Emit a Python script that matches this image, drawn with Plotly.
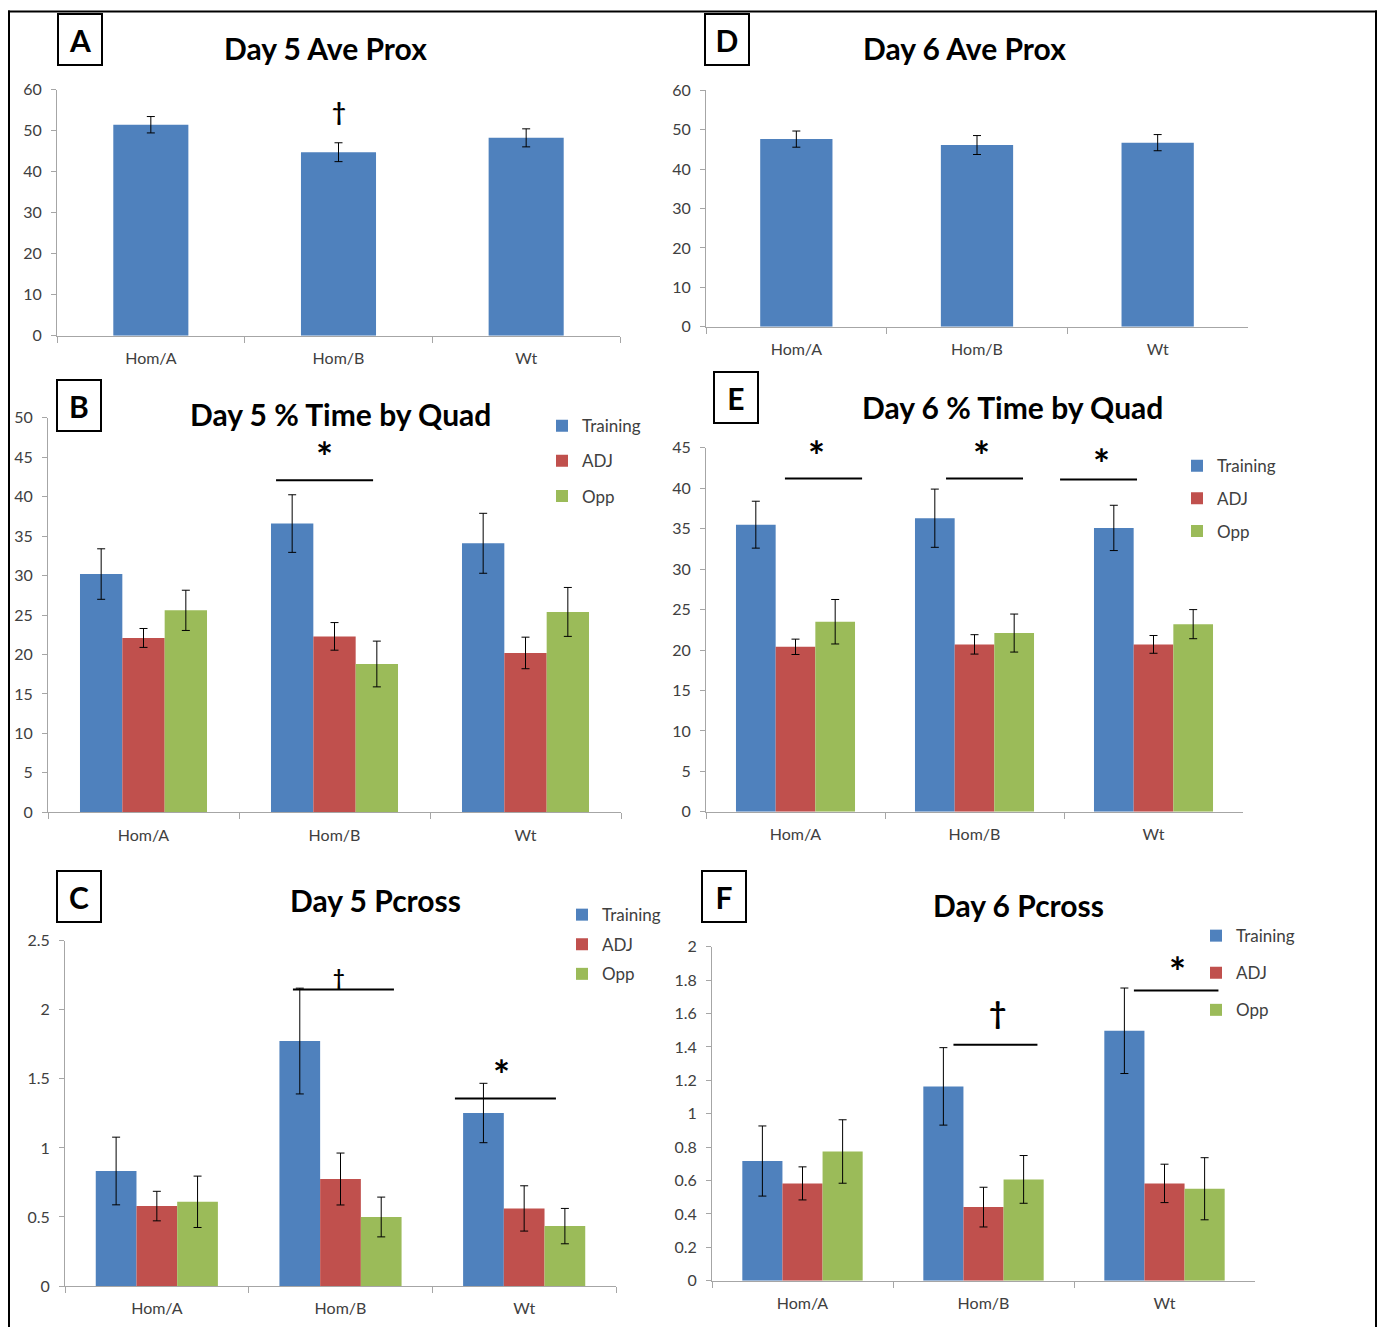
import plotly.graph_objects as go

W, H = 1384, 1327

# ---------------- data ----------------
groups = ["Hom/A", "Hom/B", "Wt"]
series_names = ["Training", "ADJ", "Opp"]

day5_prox = [51.5, 44.8, 48.3]
day5_prox_err = [2.0, 2.3, 2.2]

day6_prox = [47.6, 46.1, 46.7]
day6_prox_err = [2.05, 2.4, 2.05]

day5_quad_training = [30.2, 36.6, 34.1]
day5_quad_training_err = [3.2, 3.65, 3.8]
day5_quad_adj = [22.1, 22.3, 20.2]
day5_quad_adj_err = [1.2, 1.75, 2.0]
day5_quad_opp = [25.6, 18.8, 25.4]
day5_quad_opp_err = [2.55, 2.9, 3.1]

day6_quad_training = [35.5, 36.3, 35.1]
day6_quad_training_err = [2.9, 3.6, 2.8]
day6_quad_adj = [20.4, 20.7, 20.7]
day6_quad_adj_err = [0.95, 1.2, 1.1]
day6_quad_opp = [23.5, 22.1, 23.2]
day6_quad_opp_err = [2.75, 2.35, 1.8]

day5_pcross_training = [0.833, 1.774, 1.253]
day5_pcross_training_err = [0.245, 0.383, 0.215]
day5_pcross_adj = [0.579, 0.775, 0.562]
day5_pcross_adj_err = [0.107, 0.188, 0.164]
day5_pcross_opp = [0.610, 0.500, 0.434]
day5_pcross_opp_err = [0.186, 0.144, 0.128]

day6_pcross_training = [0.717, 1.164, 1.497]
day6_pcross_training_err = [0.210, 0.232, 0.256]
day6_pcross_adj = [0.583, 0.441, 0.583]
day6_pcross_adj_err = [0.099, 0.119, 0.115]
day6_pcross_opp = [0.774, 0.607, 0.551]
day6_pcross_opp_err = [0.190, 0.143, 0.186]

# ---------------- styling / layout ----------------
COLORS = ["#4F81BD", "#C0504D", "#9BBB59"]
FONT = "Lato, Carlito, Calibri, sans-serif"
AXIS_COLOR = "#A6A6A6"
TEXT_COLOR = "#404040"

# the photographed page ends up with a small vertical inset; place elements so they land where intended
Y_OFF = 9.1
Y_SCALE = 0.9858


def fx(px):
    return px / W


def fy(py):
    return 1 - ((py - Y_OFF) / Y_SCALE) / H


# panel geometry in (target picture) pixels
panels = [
    dict(id="A", title="Day 5 Ave Prox", x0=57, x1=620, ytop=89, ybot=335, ymax=60, dtick=10,
         tpos=(325, 47), lpos=(80, 38.5), single=(day5_prox, day5_prox_err)),
    dict(id="D", title="Day 6 Ave Prox", x0=706, x1=1248, ytop=89.3, ybot=326, ymax=60, dtick=10,
         tpos=(964, 47), lpos=(727, 39), single=(day6_prox, day6_prox_err)),
    dict(id="B", title="Day 5 % Time by Quad", x0=48, x1=621, ytop=417, ybot=811.5, ymax=50, dtick=5,
         tpos=(340, 413), lpos=(79, 405), legend=(582, 426, 35),
         series=[(day5_quad_training, day5_quad_training_err),
                 (day5_quad_adj, day5_quad_adj_err),
                 (day5_quad_opp, day5_quad_opp_err)]),
    dict(id="E", title="Day 6 % Time by Quad", x0=706, x1=1243, ytop=447, ybot=811, ymax=45, dtick=5,
         tpos=(1012, 406), lpos=(736, 397), legend=(1217, 466, 32.5),
         series=[(day6_quad_training, day6_quad_training_err),
                 (day6_quad_adj, day6_quad_adj_err),
                 (day6_quad_opp, day6_quad_opp_err)]),
    dict(id="C", title="Day 5 Pcross", x0=65, x1=616, ytop=940, ybot=1285.3, ymax=2.5, dtick=0.5,
         tpos=(375, 899), lpos=(78.5, 895.5), legend=(602, 915, 29.5),
         series=[(day5_pcross_training, day5_pcross_training_err),
                 (day5_pcross_adj, day5_pcross_adj_err),
                 (day5_pcross_opp, day5_pcross_opp_err)]),
    dict(id="F", title="Day 6 Pcross", x0=712, x1=1255, ytop=946, ybot=1280, ymax=2, dtick=0.2,
         tpos=(1018, 904), lpos=(724, 896), legend=(1236, 936, 37),
         series=[(day6_pcross_training, day6_pcross_training_err),
                 (day6_pcross_adj, day6_pcross_adj_err),
                 (day6_pcross_opp, day6_pcross_opp_err)]),
]

# significance bars: (panel index, x0, x1, y) in data units
sig_lines = [
    (2, 0.694, 1.202, 42.1),
    (3, -0.059, 0.372, 41.2),
    (3, 0.841, 1.271, 41.2),
    (3, 1.478, 1.908, 41.1),
    (4, 0.741, 1.291, 2.148),
    (4, 1.623, 2.173, 1.358),
    (5, 0.834, 1.298, 1.413),
    (5, 1.831, 2.298, 1.738),
]
# significance symbols: (panel index, symbol, x in data units, glyph-centre y in pixels, font size)
sig_symbols = [
    (0, "†", 1.0, 111, 24),
    (2, "*", 0.95, 448, 40),
    (3, "*", 0.117, 447, 40),
    (3, "*", 1.04, 447, 40),
    (3, "*", 1.707, 455, 40),
    (4, "†", 0.994, 976, 20),
    (4, "*", 1.877, 1065.7, 40),
    (5, "†", 1.077, 1011.7, 30),
    (5, "*", 2.073, 963.3, 40),
]

fig = go.Figure()
layout = dict(
    width=W, height=H, margin=dict(l=0, r=0, t=0, b=0),
    paper_bgcolor="white", plot_bgcolor="white",
    barmode="group", bargap=0.335, bargroupgap=0,
    font=dict(family=FONT, color=TEXT_COLOR),
    showlegend=True,
)
annotations = []
shapes = []

legend_names = {2: "legend", 3: "legend2", 4: "legend3", 5: "legend4"}

for i, p in enumerate(panels):
    n = i + 1
    xa = "x" if n == 1 else f"x{n}"
    ya = "y" if n == 1 else f"y{n}"
    xkey = "xaxis" if n == 1 else f"xaxis{n}"
    ykey = "yaxis" if n == 1 else f"yaxis{n}"
    layout[xkey] = dict(
        domain=[fx(p["x0"]), fx(p["x1"])], anchor=ya, type="category",
        categoryorder="array", categoryarray=groups, range=[-0.5, 2.5],
        showline=True, linecolor=AXIS_COLOR, linewidth=1,
        ticks="outside", tickson="boundaries", ticklen=6, tickcolor=AXIS_COLOR,
        showgrid=False, zeroline=False, ticklabelstandoff=8,
        tickfont=dict(family=FONT, size=16, color=TEXT_COLOR), fixedrange=True,
    )
    layout[ykey] = dict(
        domain=[fy(p["ybot"]), fy(p["ytop"])], anchor=xa, range=[0, p["ymax"]],
        tick0=0, dtick=p["dtick"], showline=True, linecolor=AXIS_COLOR, linewidth=1,
        ticks="outside", ticklen=5, tickcolor=AXIS_COLOR, showgrid=False, zeroline=False,
        ticklabelstandoff=6,
        tickfont=dict(family=FONT, size=16, color=TEXT_COLOR), fixedrange=True,
    )

    if "single" in p:
        vals, errs = p["single"]
        fig.add_trace(go.Bar(
            x=groups, y=vals, width=0.4, xaxis=xa, yaxis=ya, showlegend=False,
            marker=dict(color=COLORS[0], line=dict(width=0)),
            error_y=dict(type="data", array=errs, color="black", thickness=1, width=4),
            name=p["title"],
        ))
    else:
        lg = legend_names[i]
        for k, (vals, errs) in enumerate(p["series"]):
            fig.add_trace(go.Bar(
                x=groups, y=vals, xaxis=xa, yaxis=ya, name=series_names[k],
                legend=lg, legendgroup=f"{p['id']}_{k}", offsetgroup=str(k),
                marker=dict(color=COLORS[k], line=dict(width=0)),
                error_y=dict(type="data", array=errs, color="black", thickness=1, width=4),
            ))
        lx, ly, gap = p["legend"]
        layout[lg] = dict(
            x=fx(lx - 40), y=fy(ly - 18.7), xanchor="left", yanchor="top",
            bgcolor="rgba(0,0,0,0)", font=dict(family=FONT, size=17, color=TEXT_COLOR),
            tracegroupgap=gap - 25, itemclick=False, itemdoubleclick=False,
        )

    # title
    annotations.append(dict(
        text=f"<b>{p['title']}</b>", x=fx(p["tpos"][0]), y=fy(p["tpos"][1]),
        xref="paper", yref="paper", xanchor="center", yanchor="middle", showarrow=False,
        height=34, font=dict(family=FONT, size=30, color="black"),
    ))
    # panel letter box
    annotations.append(dict(
        text=f"<b>{p['id']}</b>", x=fx(p["lpos"][0]), y=fy(p["lpos"][1]),
        xref="paper", yref="paper", xanchor="center", yanchor="middle", showarrow=False,
        width=42, height=49, borderpad=0, bordercolor="black", borderwidth=2,
        bgcolor="white", font=dict(family=FONT, size=30, color="black"),
    ))

for (pi, x0, x1, yl) in sig_lines:
    n = pi + 1
    shapes.append(dict(type="line", xref=f"x{n}", yref=f"y{n}", x0=x0, x1=x1, y0=yl, y1=yl,
                       line=dict(color="black", width=2)))

for (pi, sym, tx, gy, sz) in sig_symbols:
    n = pi + 1
    xa = "x" if n == 1 else f"x{n}"
    if sym == "*":
        # asterisk glyph sits in the upper part of its line box: clip the box just below it
        annotations.append(dict(
            text=f"<b>{sym}</b>", x=tx, y=fy(gy - 0.44 * sz), xref=xa, yref="paper",
            showarrow=False, xanchor="center", yanchor="top", valign="top",
            height=int(0.7 * sz), font=dict(family=FONT, size=sz, color="black"),
        ))
    else:
        annotations.append(dict(
            text=f"<b>{sym}</b>", x=tx, y=fy(gy), xref=xa, yref="paper", showarrow=False,
            xanchor="center", yanchor="middle",
            font=dict(family=FONT, size=sz, color="black"),
        ))

# outer frame (top, left, right edges)
for (x0, y0, x1, y1) in [(8, 10.5, 1377, 10.5), (9, 9.5, 9, 1327), (1376, 9.5, 1376, 1327)]:
    shapes.append(dict(type="line", xref="paper", yref="paper",
                       x0=fx(x0), x1=fx(x1), y0=fy(y0), y1=fy(y1),
                       line=dict(color="black", width=2), layer="above"))

layout["annotations"] = annotations
layout["shapes"] = shapes
fig.update_layout(**layout)

post = ("document.body.style.margin='0px';"
        "document.documentElement.style.overflow='hidden';"
        "var d=document.getElementById('{plot_id}');"
        "d.style.position='fixed';d.style.top='0px';d.style.left='0px';")
fig.write_html("out.html", config={"displayModeBar": False}, post_script=post)
